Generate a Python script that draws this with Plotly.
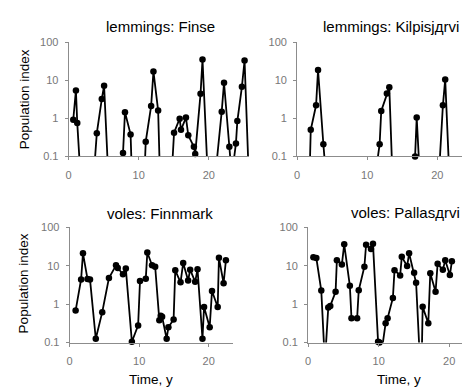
import plotly.graph_objects as go

# ---------------- data (0 = zero count, drawn below the log axis) ----------------
finse_t = [0.66, 1.04, 1.23, 1.69, 3.58, 4.02, 4.73, 5.06, 5.66, 7.45, 7.76, 8.04, 8.84, 9.03,
           10.81, 11.0, 11.77, 12.1, 12.77, 13.03, 14.69, 15.04, 15.84, 16.03, 16.74, 17.07,
           17.87, 18.06, 18.82, 19.1, 19.85, 20.92, 21.84, 22.17, 22.93, 23.27, 23.87, 24.07,
           24.72, 25.1, 25.7]
finse_v = [0.92, 5.4, 0.76, 0, 0, 0.41, 3.2, 7.2, 0, 0, 0.124, 1.45, 0.38, 0,
           0, 0.245, 2.1, 17, 1.6, 0, 0, 0.42, 0.98, 0.5, 1.05, 0.36,
           0.18, 0.117, 4.4, 35, 0, 0, 1.5, 8.6, 0.18, 0, 0.22, 0.85,
           6.7, 33, 0]

kilp_t = [1.77, 1.94, 2.7, 2.98, 3.74, 4.11, 11.14, 11.77, 12.0, 12.8, 13.15, 13.6,
          16.83, 17.06, 17.5, 20.22, 20.8, 21.13, 21.72]
kilp_v = [0, 0.5, 2.2, 18.5, 0.21, 0, 0, 0.21, 1.56, 4.5, 6.5, 0,
          0.1, 1.05, 0, 0, 2.2, 10.5, 0]

finn_t = [0.86, 1.65, 1.92, 2.57, 2.93, 3.76, 4.69, 5.65, 6.67, 6.92, 7.67, 8.08, 8.95,
          9.85, 10.12, 10.95, 11.17, 11.85, 12.3, 12.9, 13.1, 13.3, 13.95, 14.2, 14.95,
          15.19, 15.95, 16.33, 17.04, 17.33, 18.05, 18.39, 19.1, 19.33, 20.14, 20.47,
          21.29, 21.47, 22.14, 22.47]
finn_v = [0.68, 4.4, 21, 4.5, 4.4, 0.126, 0.62, 4.8, 10.2, 8.7, 6.0, 8.4, 0.105,
          0.28, 4.0, 4.6, 22, 10.3, 9.4, 0.38, 0.5, 0.47, 0.126, 0.25, 0.4,
          7.6, 3.7, 11.8, 4.1, 7.9, 3.8, 8.1, 0.126, 0.84, 0.25, 2.2,
          0.84, 16, 3.5, 13.8]

pall_t = [0.75, 1.17, 1.87, 2.38, 2.86, 3.14, 3.9, 4.08, 4.79, 5.12, 5.92, 6.15, 6.95,
          7.18, 7.98, 8.22, 8.92, 9.2, 9.92, 10.12, 10.2, 10.99, 11.27, 12.02, 12.25,
          13.05, 13.28, 14.04, 14.32, 15.03, 15.31, 15.87, 16.1, 16.24, 17.04, 17.32,
          18.07, 18.36, 19.1, 19.44, 20.1, 20.38]
pall_v = [16.7, 15.8, 2.25, 0, 0.82, 0.9, 2.1, 13.8, 10.8, 36, 3.0, 0.43, 0.43,
          2.3, 9.4, 35, 27, 37, 0.105, 0.1, 0, 0.32, 0.43, 1.45, 7.6,
          5.6, 17, 9.8, 21, 6.6, 3.6, 0, 0, 0.85, 0.32, 6.4,
          2.1, 11.2, 7.8, 13.8, 5.7, 13]

titles = ["lemmings: Finse", "lemmings: Kilpisjдrvi", "voles: Finnmark", "voles: Pallasдrvi"]
y_title = "Population index"
x_title = "Time, y"
y_ticks = [0.1, 1, 10, 100]
y_tick_text = ["0.1", "1", "10", "100"]
x_ticks = [0, 10, 20]

ZERO_FLOOR = 0.03  # zero counts plotted below the 0.1 axis (line only, no marker)

W, H = 470, 391
FONT = "Arial, Liberation Sans, sans-serif"

# panel geometry in pixels: (x0, x1, xmax, ytop, ybottom)
panels = [
    (58, 240, 25.8, 29, 147),
    (288, 465, 25.1, 29, 147),
    (59, 223, 23.43, 220, 339),
    (299, 465, 23.38, 220, 339),
]
series = [(finse_t, finse_v), (kilp_t, kilp_v), (finn_t, finn_v), (pall_t, pall_v)]

fig = go.Figure()
layout = dict(
    width=W, height=H, margin=dict(l=0, r=0, t=0, b=0),
    paper_bgcolor="white", plot_bgcolor="white", showlegend=False,
    font=dict(family=FONT, color="black"),
)

AX_COL = "#8c8c8c"
TICK_FONT = dict(size=11, color="#777777", family=FONT)

for i, ((x0, x1, xmax, yt, yb), (t, v)) in enumerate(zip(panels, series)):
    n = "" if i == 0 else str(i + 1)
    vv = [val if val > 0 else ZERO_FLOOR for val in v]
    sizes = [6.5 if val > 0 else 0 for val in v]
    fig.add_trace(go.Scatter(
        x=t, y=vv, mode="lines+markers", xaxis="x" + n, yaxis="y" + n,
        line=dict(color="black", width=1.8),
        marker=dict(color="black", size=sizes, symbol="circle", opacity=1,
                    line=dict(width=0, color="black")),
        cliponaxis=False,
    ))
    layout["xaxis" + n] = dict(
        domain=[x0 / W, x1 / W], range=[0, xmax], anchor="y" + n,
        showgrid=False, zeroline=False, showline=True, linecolor=AX_COL, linewidth=1,
        ticks="outside", ticklen=3, tickcolor=AX_COL, tickvals=x_ticks,
        ticklabelstandoff=5, tickfont=TICK_FONT,
    )
    layout["yaxis" + n] = dict(
        domain=[1 - yb / H, 1 - yt / H], type="log", range=[-1, 2], anchor="x" + n,
        showgrid=False, zeroline=False, showline=True, linecolor=AX_COL, linewidth=1,
        ticks="outside", ticklen=3, tickcolor=AX_COL,
        tickvals=y_ticks, ticktext=y_tick_text,
        ticklabelstandoff=4, tickfont=TICK_FONT,
    )

title_pos = [(150, 13), (382, 13), (150, 206), (397, 205)]
ann = []
for txt, (cx, cy) in zip(titles, title_pos):
    ann.append(dict(text=txt, x=cx / W, y=1 - cy / H, xref="paper", yref="paper",
                    showarrow=False, xanchor="center", yanchor="middle",
                    font=dict(size=15, color="black", family=FONT)))
for cy in (88, 278):
    ann.append(dict(text=y_title, x=13 / W, y=1 - cy / H, xref="paper", yref="paper",
                    showarrow=False, textangle=-90, xanchor="center", yanchor="middle",
                    font=dict(size=13.5, color="black", family=FONT)))
for cx in (141, 390):
    ann.append(dict(text=x_title, x=cx / W, y=1 - 377 / H, xref="paper", yref="paper",
                    showarrow=False, xanchor="center", yanchor="middle",
                    font=dict(size=13.5, color="black", family=FONT)))
layout["annotations"] = ann

fig.update_layout(**layout)
fig.write_html("out.html")
